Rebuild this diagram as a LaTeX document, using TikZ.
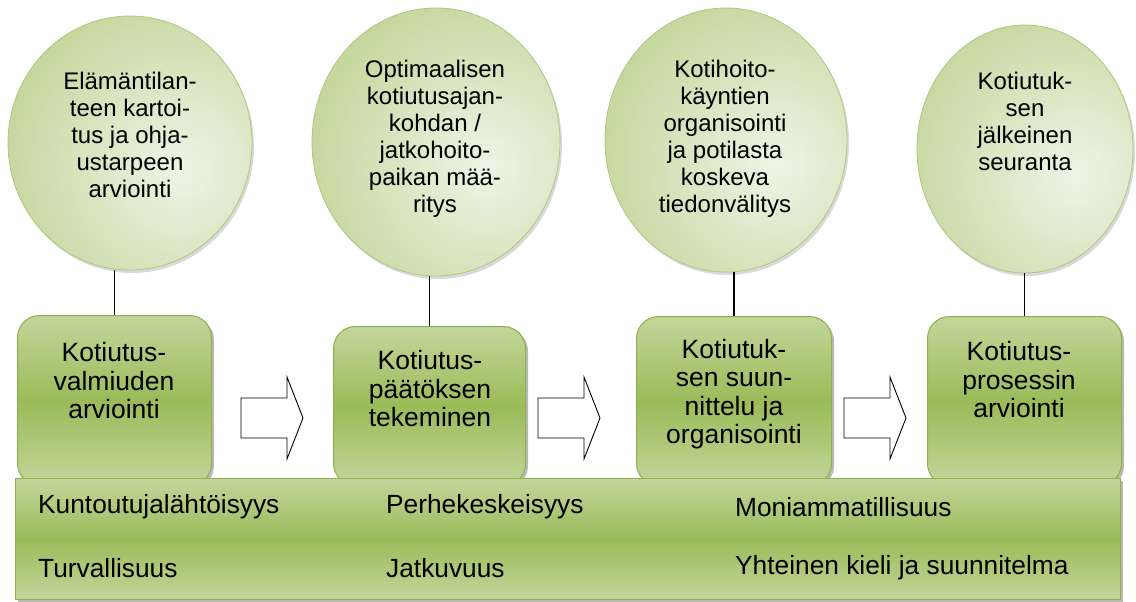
\documentclass[tikz,border=0pt]{standalone}
\usepackage{fontspec}
\setmainfont{Liberation Sans}
\usetikzlibrary{shapes.geometric,shadows,calc}
\definecolor{lg}{HTML}{C3D69B}
\definecolor{mg}{HTML}{9BBB59}
\definecolor{pale}{HTML}{EFF4E6}
\definecolor{cedge}{HTML}{AFC981}
\definecolor{bedge}{HTML}{8DB14B}
\begin{document}
\begin{tikzpicture}[x=1pt,y=-1pt,
  font=\fontsize{22.5}{27}\selectfont,
  circ/.style={ellipse, inner sep=0pt, draw=cedge, line width=0.8pt, fill=lg,
    drop shadow={shadow xshift=2pt, shadow yshift=-3pt, opacity=0.3},
    path picture={\shade[inner color=pale, outer color=lg]
      ($(path picture bounding box.center)+(50,25)$) circle (185);}},
  box/.style={rectangle, rounded corners=22pt, draw=bedge, line width=1pt,
    top color=lg, bottom color=lg, middle color=mg, inner sep=0pt,
    drop shadow={shadow xshift=2.5pt, shadow yshift=-2.5pt, opacity=0.55}},
  bar/.style={rectangle, draw=bedge, line width=1pt,
    top color=lg, bottom color=lg, middle color=mg, inner sep=0pt,
    drop shadow={shadow xshift=2.5pt, shadow yshift=-2.5pt, opacity=0.55}},
  ctxt/.style={align=center, inner sep=0pt, font=\fontsize{24}{27}\selectfont},
  btxt/.style={align=center, inner sep=0pt, font=\fontsize{26.5}{28.5}\selectfont},
  ltxt/.style={anchor=west, inner sep=0pt, font=\fontsize{26.3}{30}\selectfont},
  link/.style={draw=black, line width=1.2pt},
  arr/.style={draw=black, fill=white, line width=0.9pt, line join=miter}]
\useasboundingbox (0,0) rectangle (1136,602);

% circles
\node[circ, minimum width=244pt, minimum height=254pt] (c1) at (130,143) {};
\node[circ, minimum width=248pt, minimum height=268pt] (c2) at (436,142) {};
\node[circ, minimum width=242pt, minimum height=264pt] (c3) at (726,140) {};
\node[circ, minimum width=216pt, minimum height=248pt] (c4) at (1025,149) {};

\node[ctxt] (tc1) at (130,135) {Elämäntilan-\\teen kartoi-\\tus ja ohja-\\ustarpeen\\arviointi};
\node[ctxt] (tc2) at (435,139) {Optimaalisen\\kotiutusajan-\\kohdan /\\jatkohoito-\\paikan mää-\\ritys};
\node[ctxt] (tc3) at (725,139) {Kotihoito-\\käyntien\\organisointi\\ja potilasta\\koskeva\\tiedonvälitys};
\node[ctxt] (tc4) at (1025,121) {Kotiutuk-\\sen\\jälkeinen\\seuranta};

% boxes
\node[box, minimum width=194pt, minimum height=170pt, anchor=north west] (b1) at (17,315) {};
\node[box, minimum width=192pt, minimum height=159pt, anchor=north west] (b2) at (333,326) {};
\node[box, minimum width=195pt, minimum height=169pt, anchor=north west] (b3) at (636,316) {};
\node[box, minimum width=194pt, minimum height=169pt, anchor=north west] (b4) at (927,316) {};

\node[btxt] (tb1) at (114,381) {Kotiutus-\\valmiuden\\arviointi};
\node[btxt] (tb2) at (430,389) {Kotiutus-\\päätöksen\\tekeminen};
\node[btxt] (tb3) at (734,394) {Kotiutuk-\\sen suun-\\nittelu ja\\organisointi};
\node[btxt] (tb4) at (1019,380) {Kotiutus-\\prosessin\\arviointi};

% links
\draw[link] (b1.north) -- (b1.north |- c1.south);
\draw[link] (b2.north) -- (b2.north |- c2.south);
\draw[link] (b3.north) -- (b3.north |- c3.south);
\draw[link] (b4.north) -- (b4.north |- c4.south);

% block arrows
\foreach \ax in {241,538,844}{
  \draw[arr, shift={(\ax,418)}] (0,-20) -- (46,-20) -- (46,-41) -- (62,0)
     -- (46,41) -- (46,20) -- (0,20) -- cycle;
}

% bottom bar
\node[bar, minimum width=1105pt, minimum height=121pt, anchor=north west] (bar) at (15,478) {};
\node[ltxt] (k1) at (38,507) {Kuntoutujalähtöisyys};
\node[ltxt] (k2) at (386,507) {Perhekeskeisyys};
\node[ltxt] (k3) at (735,507) {Moniammatillisuus};
\node[ltxt] (k4) at (38,568) {Turvallisuus};
\node[ltxt] (k5) at (386,568) {Jatkuvuus};
\node[ltxt] (k6) at (735,568) {Yhteinen kieli ja suunnitelma};
\end{tikzpicture}
\end{document}
